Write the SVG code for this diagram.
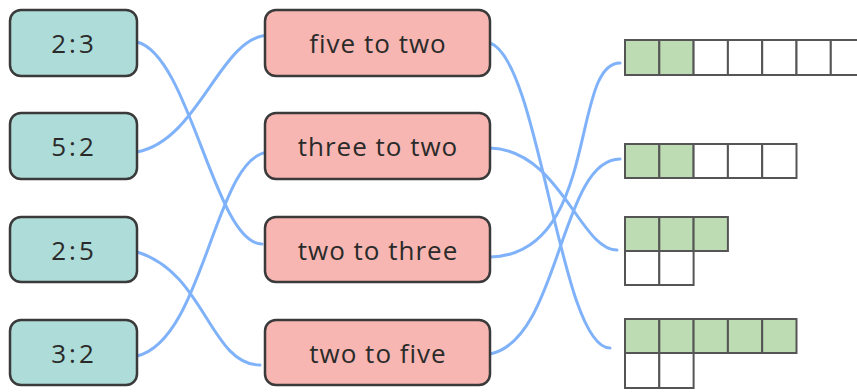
<svg xmlns="http://www.w3.org/2000/svg" width="857" height="392" viewBox="0 0 857 392">
<style>
.ratio rect{fill:#aedcd8;stroke:#3a3a3a;stroke-width:2.5}
.phrase rect{fill:#f7b6b1;stroke:#3a3a3a;stroke-width:2.5}
text{font-family:"Open Sans","Noto Sans","DejaVu Sans",sans-serif;font-size:26px;fill:#2a2a2a;text-anchor:middle;dominant-baseline:central}
.ratio text{letter-spacing:3px}
.phrase text{letter-spacing:1px}
.conn path{fill:none;stroke:#80b2fa;stroke-width:3;stroke-linecap:round}
.g{fill:#bddcb3;stroke:#555;stroke-width:2}
.w{fill:#fff;stroke:#555;stroke-width:2}
</style>
<g class="conn" id="connectors">
<path d="M137,42 C190,55 215,244 262,244"/>
<path d="M137,152 C200,140 220,35 270,35"/>
<path d="M137,252 C205,272 210,365 260,365"/>
<path d="M137,356 C205,340 215,152 270,152"/>
<path d="M490,43 C540,60 560,348 610,348"/>
<path d="M490,148 C560,150 580,250 617,250"/>
<path d="M490,257 C600,255 570,63 620,63"/>
<path d="M490,354 C560,340 560,159 620,159"/>
</g>
<g class="ratio" id="r23"><rect x="10" y="10" width="127" height="66" rx="11"/><text x="74" y="43">2:3</text></g>
<g class="ratio" id="r52"><rect x="10" y="113" width="127" height="66" rx="11"/><text x="74" y="146">5:2</text></g>
<g class="ratio" id="r25"><rect x="10" y="217" width="127" height="65" rx="11"/><text x="74" y="250">2:5</text></g>
<g class="ratio" id="r32"><rect x="10" y="320" width="127" height="65" rx="11"/><text x="74" y="353">3:2</text></g>
<g class="phrase" id="p52"><rect x="265" y="10" width="225" height="66" rx="11"/><text x="378" y="43">five to two</text></g>
<g class="phrase" id="p32"><rect x="265" y="113" width="225" height="66" rx="11"/><text x="378" y="146">three to two</text></g>
<g class="phrase" id="p23"><rect x="265" y="217" width="225" height="65" rx="11"/><text x="378" y="250">two to three</text></g>
<g class="phrase" id="p25"><rect x="265" y="320" width="225" height="65" rx="11"/><text x="378" y="353">two to five</text></g>
<g id="grid1">
<rect class="g" x="625" y="40" width="34.3" height="35"/>
<rect class="g" x="659.3" y="40" width="34.3" height="35"/>
<rect class="w" x="693.6" y="40" width="34.3" height="35"/>
<rect class="w" x="727.9" y="40" width="34.3" height="35"/>
<rect class="w" x="762.2" y="40" width="34.3" height="35"/>
<rect class="w" x="796.5" y="40" width="34.3" height="35"/>
<rect class="w" x="830.8" y="40" width="34.3" height="35"/>
</g>
<g id="grid2">
<rect class="g" x="625" y="144" width="34.3" height="34"/>
<rect class="g" x="659.3" y="144" width="34.3" height="34"/>
<rect class="w" x="693.6" y="144" width="34.3" height="34"/>
<rect class="w" x="727.9" y="144" width="34.3" height="34"/>
<rect class="w" x="762.2" y="144" width="34.3" height="34"/>
</g>
<g id="grid3">
<rect class="g" x="625" y="217" width="34.3" height="34"/>
<rect class="g" x="659.3" y="217" width="34.3" height="34"/>
<rect class="g" x="693.6" y="217" width="34.3" height="34"/>
<rect class="w" x="625" y="251" width="34.3" height="34"/>
<rect class="w" x="659.3" y="251" width="34.3" height="34"/>
</g>
<g id="grid4">
<rect class="g" x="625" y="319" width="34.3" height="34"/>
<rect class="g" x="659.3" y="319" width="34.3" height="34"/>
<rect class="g" x="693.6" y="319" width="34.3" height="34"/>
<rect class="g" x="727.9" y="319" width="34.3" height="34"/>
<rect class="g" x="762.2" y="319" width="34.3" height="34"/>
<rect class="w" x="625" y="353" width="34.3" height="35"/>
<rect class="w" x="659.3" y="353" width="34.3" height="35"/>
</g>
</svg>
